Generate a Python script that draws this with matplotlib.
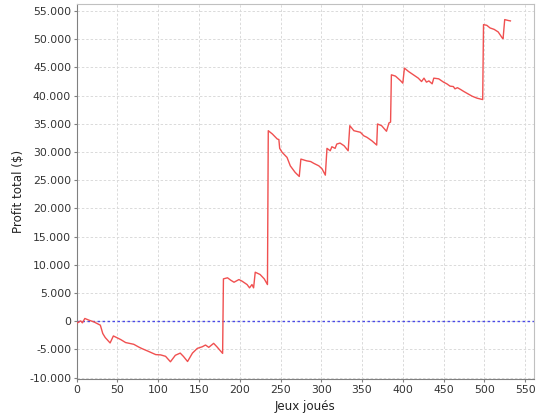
import matplotlib
matplotlib.use("Agg")
import matplotlib.pyplot as plt
from matplotlib.ticker import FuncFormatter, MultipleLocator

# ── data ──────────────────────────────────────────────────────────────────────
games = [0, 1, 5, 7, 10, 15, 21, 29, 32, 35, 41, 45, 54, 60, 70, 76, 80, 87,
         97, 103, 109, 115, 121, 127, 131, 136, 142, 148, 154, 158, 162, 168,
         172, 179,
         180, 185, 189, 193, 199, 203, 209, 212, 215, 217, 219, 225, 230, 234,
         235, 240, 246, 248, 249, 252, 258, 262, 268, 273, 275, 282, 287, 291,
         297, 301, 305, 307, 311, 313, 317, 319, 323, 328, 333, 335, 340, 348,
         352, 356, 362, 368, 369, 374, 380, 383, 385,
         386, 391, 397, 400, 402, 407, 413, 419, 423, 426, 429, 432, 436, 438,
         444, 450, 454, 458, 462, 464, 467, 471, 475, 480, 485, 491, 498,
         499, 503, 507, 512, 517, 522, 523, 525, 530, 532]
profit = [-200, -300, 50, -300, 480, 180, -120, -710, -2190, -2900, -3860,
          -2620, -3260, -3790, -4100, -4580, -4860, -5290, -5930, -5980, -6230,
          -7200, -6050, -5660, -6260, -7150, -5660, -4820, -4540, -4230, -4640,
          -3930, -4540, -5710,
          7500, 7690, 7260, 6900, 7380, 7080, 6490, 5910, 6490, 5910, 8680,
          8270, 7510, 6490,
          33770, 33190, 32300, 32200, 30640, 29930, 29040, 27540, 26370, 25660,
          28740, 28430, 28300, 27970, 27540, 27000, 25890, 30640, 30210, 30930,
          30640, 31400, 31580, 31100, 30210, 34660, 33770, 33490, 32880, 32600,
          31990, 31230, 34960, 34660, 33670, 35140, 35300,
          43680, 43450, 42670, 42200, 44870, 44270, 43680, 43090, 42490, 43090,
          42380, 42600, 42080, 43090, 42970, 42380, 42080, 41670, 41600, 41190,
          41400, 41070, 40710, 40300, 39890, 39540, 39290,
          52580, 52460, 51990, 51740, 51280, 50210, 50100, 53470, 53290, 53240]

X_LABEL = "Jeux joués"
Y_LABEL = "Profit total ($)"


def thousands(v, pos):
    return f"{int(round(v)):,}".replace(",", ".")


# ── plot ──────────────────────────────────────────────────────────────────────
fig = plt.figure(figsize=(5.4, 4.2), dpi=100)
ax = fig.add_axes([0.142, 0.097, 0.847, 0.893])

ax.grid(True, color="#dadada", linestyle=(0, (2.5, 2)), linewidth=0.7)
ax.set_axisbelow(True)
ax.axhline(0, color="#4a4ae6", linestyle=(0, (1.8, 1.8)), linewidth=1.0, zorder=2)
ax.plot(games, profit, color="#f05050", linewidth=1.0, zorder=3)

ax.set_xlim(0, 561)
ax.set_ylim(-10300, 56200)
ax.xaxis.set_major_locator(MultipleLocator(50))
ax.yaxis.set_major_locator(MultipleLocator(5000))
ax.yaxis.set_major_formatter(FuncFormatter(thousands))

for side in ("left", "bottom"):
    ax.spines[side].set_color("#808080")
for side in ("top", "right"):
    ax.spines[side].set_color("#c0c0c0")
ax.tick_params(direction="out", length=2, width=0.8, color="#808080",
               labelsize=7.8, labelcolor="#333333", pad=2)

ax.set_xlabel(X_LABEL, fontsize=8.6, color="#222222", labelpad=4)
ax.set_ylabel(Y_LABEL, fontsize=8.6, color="#222222", labelpad=3)

fig.savefig("out.png", dpi=100)
